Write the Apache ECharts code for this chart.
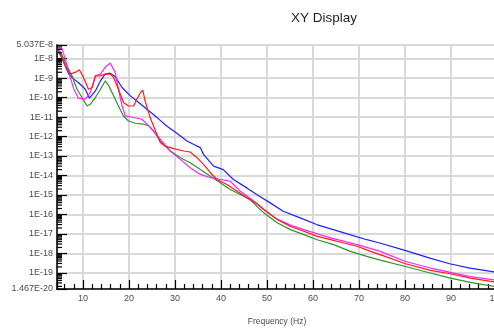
<!DOCTYPE html>
<html>
<head>
<meta charset="utf-8">
<script src="https://cdn.jsdelivr.net/npm/echarts@6/dist/echarts.min.js"></script>
<style>
html,body{margin:0;padding:0;background:#fff;}
#chart{width:494px;height:328px;}
</style>
</head>
<body>
<div id="chart"></div>
<script>
// ---- data (frequency Hz, amplitude) ----
const titleText = 'XY Display';
const xAxisName = 'Frequency (Hz)';
const xMin = 4.35, xMax = 100;
const yMin = 1.467e-20, yMax = 5.037e-8;

const blueData = [
  [4.5,3.1e-8],[5.1,1.73e-8],[5.8,6.5e-9],[6.9,1.61e-9],[8.0,8.9e-10],[9.0,6.0e-10],
  [10.5,2.7e-10],[11.4,9.3e-11],[12.7,2.2e-10],[13.8,7.3e-10],[14.8,1.6e-9],[15.9,1.8e-9],
  [17.0,1.2e-9],[18.5,3.3e-10],[20.3,1.23e-10],[22.1,5.6e-11],[23.9,2.5e-11],[26.1,9.4e-12],
  [28.2,3.5e-12],[30.4,1.47e-12],[32.6,5.9e-13],[34.0,4.0e-13],[35.5,2.7e-13],[36.2,1.21e-13],
  [38.4,3.0e-14],[40.5,2.0e-14],[42.7,6.2e-15],[45.6,2.3e-15],[48.1,9.3e-16],[50.7,3.9e-16],
  [53.5,1.45e-16],[57.2,6.6e-17],[60.8,3.0e-17],[64.4,1.65e-17],[68.0,9.1e-18],[71.7,5.0e-18],
  [74.5,3.4e-18],[80.0,1.41e-18],[85.4,5.7e-19],[89.7,2.9e-19],[94.1,1.75e-19],[100,1.05e-19]
];
const greenData = [
  [4.5,2.8e-8],[5.1,2.2e-8],[6.15,6.5e-9],[7.6,1.32e-9],[8.7,2.7e-10],[9.8,1.01e-10],
  [10.9,3.7e-11],[11.6,4.6e-11],[12.7,1.01e-10],[13.8,2.7e-10],[14.85,7.3e-10],[15.6,4.0e-10],
  [16.65,1.23e-10],[17.7,3.7e-11],[18.8,1.14e-11],[19.9,6.3e-12],[21.4,4.8e-12],[23.2,4.3e-12],
  [24.3,3.5e-12],[25.35,1.93e-12],[26.8,5.7e-13],[29.0,1.8e-13],[31.15,8.2e-14],[33.3,4.5e-14],
  [35.5,2.0e-14],[37.7,9.2e-15],[39.85,4.2e-15],[42.0,1.9e-15],[44.2,1.05e-15],[46.4,5.5e-16],
  [49.3,1.2e-16],[52.2,3.7e-17],[55.1,1.65e-17],[58.0,9.1e-18],[60.9,5.0e-18],[64.5,2.8e-18],
  [68.1,1.26e-18],[71.7,6.9e-19],[74.6,4.5e-19],[80.1,2.1e-19],[85.5,9.7e-20],[89.85,5.3e-20],
  [94.2,3.2e-20],[100,1.9e-20]
];
const magentaData = [
  [4.5,3.1e-8],[5.4,3.5e-8],[6.15,9.5e-9],[6.9,1.97e-9],[8.0,2.7e-10],[9.0,9.3e-11],
  [10.5,8.3e-11],[11.6,1.84e-10],[12.7,1.32e-9],[13.8,1.6e-9],[14.85,3.7e-9],[15.9,5.9e-9],
  [17.0,2.0e-9],[17.7,2.7e-10],[18.5,3.7e-11],[19.2,1.14e-11],[20.65,9.8e-12],[22.8,7.7e-12],
  [24.3,3.5e-12],[25.7,1.47e-12],[27.2,5.7e-13],[29.0,1.73e-13],[31.15,6.7e-14],[33.3,2.5e-14],
  [35.5,1.13e-14],[37.7,7.6e-15],[39.85,6.2e-15],[42.0,5.1e-15],[43.1,2.8e-15],[44.2,1.56e-15],
  [46.4,6.5e-16],[49.3,1.77e-16],[52.2,5.7e-17],[55.1,2.8e-17],[58.0,1.65e-17],[63.8,6.2e-18],
  [69.6,2.8e-18],[74.6,1.26e-18],[80.1,3.8e-19],[85.5,1.75e-19],[89.85,1.04e-19],[94.2,6.4e-20],
  [100,4.1e-20]
];
const redData = [
  [4.5,2.5e-8],[5.4,1.17e-8],[6.15,4.3e-9],[7.2,1.6e-9],[8.3,1.97e-9],[9.2,2.7e-9],
  [10.1,1.09e-9],[11.2,2.7e-10],[12.0,3.3e-10],[12.7,1.32e-9],[13.8,1.32e-9],[14.85,1.6e-9],
  [15.9,1.6e-9],[16.65,1.09e-9],[17.7,2.7e-10],[18.8,5.6e-11],[19.9,3.7e-11],[21.0,3.7e-11],
  [21.7,8.3e-11],[22.5,1.84e-10],[23.0,2.4e-10],[23.5,6.8e-11],[24.6,9.4e-12],[25.7,2.1e-12],
  [26.8,4.9e-13],[27.9,3.2e-13],[29.7,2.4e-13],[31.9,1.8e-13],[33.3,1.6e-13],[34.8,8.2e-14],
  [36.2,3.7e-14],[37.7,1.38e-14],[39.1,6.2e-15],[41.3,3.4e-15],[43.5,1.56e-15],[45.65,7.1e-16],
  [47.8,3.6e-16],[49.3,1.77e-16],[52.2,5.4e-17],[55.1,2.4e-17],[58.0,1.35e-17],[60.9,7.4e-18],
  [63.8,5.0e-18],[66.65,3.4e-18],[69.6,2.3e-18],[72.5,1.26e-18],[74.6,8.5e-19],[80.1,2.9e-19],
  [85.5,1.32e-19],[89.85,8.9e-20],[94.2,5.3e-20],[100,3.2e-20]
];
const seriesColors = { blue:'#1f1fff', green:'#27962a', magenta:'#ff22ff', red:'#ff1a1a' };
const minorMultipliers = [2,3,4,5,6,7,8,9];

// minor tick values on the log axis (decoration only)
const minorTickVals = [];
for (let e = -21; e <= -8; e++) {
  minorMultipliers.forEach(function(m){
    const v = m * Math.pow(10, e);
    if (v > yMin && v < yMax) minorTickVals.push([xMin, v]);
  });
}

// decade-label axis works in exponent space (same extent as the log data axis)
const expMin = Math.log10(yMin), expMax = Math.log10(yMax);
function fmtExp(v) {
  if (Math.abs(v - Math.round(v)) < 1e-6) return '1E' + Math.round(v);
  return Math.pow(10, v).toExponential(3).toUpperCase().replace('E+', 'E');
}

const chart = echarts.init(document.getElementById('chart'), null, {renderer:'canvas'});
const labelFont = { fontFamily:'Liberation Sans', fontSize:9, color:'#4a4a4a' };

function lineSeries(name, data, color) {
  return { name:name, type:'line', data:data, yAxisIndex:0, showSymbol:false, symbol:'none',
    lineStyle:{ color:color, width:1.2 }, itemStyle:{color:color}, z:3, clip:true, silent:true };
}

chart.setOption({
  animation:false,
  title:{ text:titleText, left:286, top:6,
    textStyle:{ fontFamily:'Liberation Sans', fontSize:13.5, fontWeight:'normal', color:'#1e1e2e' } },
  grid:{ left:57, top:45, right:-3, bottom:39, containLabel:false, outerBoundsMode:'none',
    show:true, borderColor:'#333', borderWidth:1.5, backgroundColor:'#fff' },
  xAxis:{ type:'value', min:xMin, max:xMax, splitNumber:10,
    name:xAxisName, nameLocation:'middle', nameGap:28,
    nameTextStyle:{ fontFamily:'Liberation Sans', fontSize:8.5, color:'#4a4a4a' },
    axisLine:{ show:true, lineStyle:{ color:'#000', width:1.5 } },
    axisTick:{ show:true, inside:true, length:9, lineStyle:{ color:'#000', width:1.2 } },
    minorTick:{ show:true, splitNumber:5, length:5, lineStyle:{ color:'#000', width:1.2 } },
    splitLine:{ show:true, lineStyle:{ color:'#d9d9d9', width:2 } },
    axisLabel:Object.assign({ margin:5, showMinLabel:false }, labelFont)
  },
  yAxis:[
    { type:'log', logBase:10, min:yMin, max:yMax, show:true, position:'left',
      axisLine:{show:false}, axisTick:{show:false}, axisLabel:{show:false}, splitLine:{show:false} },
    { type:'value', min:expMin, max:expMax, splitNumber:12, position:'left', offset:0,
      axisLine:{ show:true, onZero:false, lineStyle:{ color:'#000', width:1.5 } },
      axisTick:{ show:true, inside:true, length:10, lineStyle:{ color:'#000', width:1.2 } },
      splitLine:{ show:true, lineStyle:{ color:'#d9d9d9', width:2 } },
      axisLabel:Object.assign({ margin:4, formatter:fmtExp, showMinLabel:true, showMaxLabel:true }, labelFont)
    }
  ],
  series:[
    { type:'custom', silent:true, z:4, data:minorTickVals, yAxisIndex:0, clip:true,
      renderItem:function(params, api){
        const p = api.coord([api.value(0), api.value(1)]);
        return { type:'line', shape:{ x1:p[0], y1:p[1], x2:p[0]+5, y2:p[1] },
          style:{ stroke:'#000', lineWidth:1.2 } };
      } },
    lineSeries('blue', blueData, seriesColors.blue),
    lineSeries('green', greenData, seriesColors.green),
    lineSeries('magenta', magentaData, seriesColors.magenta),
    lineSeries('red', redData, seriesColors.red)
  ]
});
</script>
</body>
</html>
